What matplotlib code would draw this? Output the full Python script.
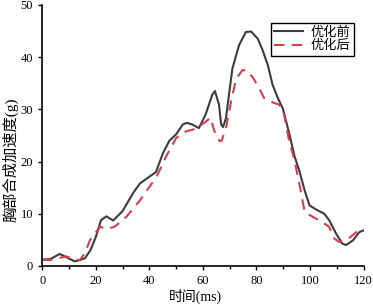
import numpy as np
import matplotlib.pyplot as plt

plt.rcParams['font.family'] = ['Liberation Serif', 'Noto Sans CJK SC']

# 优化前 (before optimisation)
t_before = [0, 3, 6.5, 9, 12, 14, 16, 18, 20, 22, 24, 26.5, 30, 34, 36.5, 42.5,
            45, 47.5, 50, 52.5, 54, 56, 58.5, 61, 63.5, 64.5, 66, 66.8, 67.5, 68.6,
            71, 73.5, 76, 78, 80.5, 82.3, 84.2, 86, 88, 89.8, 92.3, 94.2, 96, 98,
            99.8, 102.3, 105.3, 107.2, 109.7, 112, 113.4, 116, 118.4, 120]
g_before = [1.2, 1.3, 2.3, 1.7, 0.9, 1.1, 1.5, 3, 5.5, 8.8, 9.5, 8.7, 10.5, 14, 15.8, 18,
            21.5, 24, 25.2, 27.1, 27.4, 27.1, 26.4, 29, 32.8, 33.5, 30.9, 27.1, 26.6, 28.3,
            37.8, 42.3, 44.8, 44.9, 43.5, 41.3, 38.5, 34.7, 32.1, 30.2, 25.2, 21, 18.2, 14.4,
            11.6, 10.8, 10, 8.7, 6.2, 4.3, 4, 4.9, 6.5, 6.8]

# 优化后 (after optimisation)
t_after = [0, 2.8, 6, 9.2, 12, 14, 16, 17.8, 21.6, 24, 27, 31.4, 36.4, 42.6, 46.3, 50,
           53.8, 56.2, 58.7, 61, 62.8, 64.3, 66.2, 67, 68.6, 70.5, 72.4, 74.8, 76.1,
           78.5, 81, 82.9, 86.6, 88.5, 90.3, 92.2, 94.1, 96, 98, 101, 104.6, 107.1,
           108.9, 110.8, 114.5, 118]
g_after = [1.3, 1.1, 1.5, 1.8, 1.3, 1.1, 2.5, 4.9, 7.5, 7.1, 7.5, 9.4, 12.5, 17, 21, 24.5,
           25.8, 26.1, 26.8, 27.6, 28.4, 25.8, 23.9, 24.0, 26.4, 31.5, 35.9, 37.5, 37.5,
           36.2, 34, 32.1, 31.2, 30.9, 29, 23.9, 20.4, 15.7, 10.3, 9.4, 8.4, 7.5,
           5.3, 4.6, 5.3, 6.8]

fig = plt.figure(figsize=(3.73, 3.05), dpi=100)
ax = fig.add_axes([0.113, 0.128, 0.862, 0.856])

ax.plot(t_before, g_before, color='#3c3c3c', lw=1.5, label='优化前')
ax.plot(t_after, g_after, color='#d0404f', lw=1.5, ls=(0, (5, 3.5)), label='优化后')

ax.set_xlim(0, 120)
ax.set_ylim(0, 50)
ax.set_xticks([0, 20, 40, 60, 80, 100, 120])
ax.set_xticks(np.arange(10, 120, 20), minor=True)
ax.set_yticks([0, 10, 20, 30, 40, 50])
for s in ['top', 'right']:
    ax.spines[s].set_visible(False)
for s in ['left', 'bottom']:
    ax.spines[s].set_linewidth(1.2)
ax.tick_params(labelsize=9, length=3, width=1)
ax.tick_params(which='minor', length=2, width=1)

ax.set_xlabel('时间(ms)', fontsize=10)
ax.set_ylabel('胸部合成加速度(g)', fontsize=11)
ax.xaxis.set_label_coords(0.477, -0.088)
ax.yaxis.set_label_coords(-0.075, 0.405)

leg = ax.legend(loc='upper right', bbox_to_anchor=(0.99, 0.955), fontsize=9.5,
                fancybox=False, framealpha=1, edgecolor='black', handlelength=2.2,
                borderpad=0.25, labelspacing=0.1, handletextpad=0.6)
leg.get_frame().set_linewidth(1.0)

fig.savefig('out.png', dpi=100)
